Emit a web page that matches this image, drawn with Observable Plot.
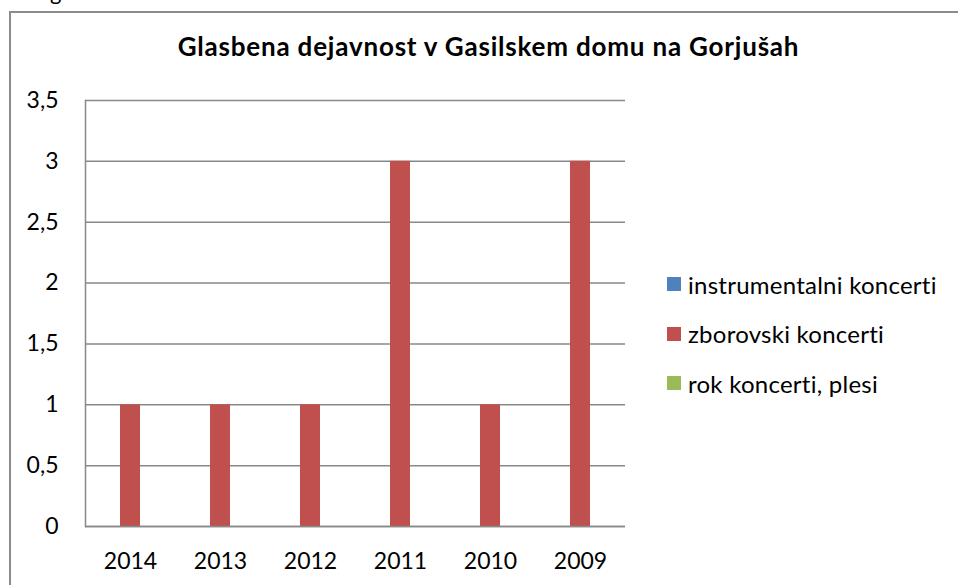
<!DOCTYPE html>
<html><head><meta charset="utf-8">
<script src="https://cdn.jsdelivr.net/npm/d3@7"></script>
<script src="https://cdn.jsdelivr.net/npm/@observablehq/plot@0.6"></script>
<style>
body{margin:0;background:#fff;font-family:Lato,sans-serif;}
#wrap{position:relative;width:958px;height:585px;overflow:hidden;background:#fff;}
#border{position:absolute;left:9px;top:11px;width:1000px;height:700px;border-left:2px solid #8c8c8c;border-top:2px solid #8c8c8c;box-sizing:border-box;}
#frag{position:absolute;left:50px;top:-19px;font-size:22px;line-height:22px;color:#000;}
#title{position:absolute;left:0;width:977px;top:32px;text-align:center;font-weight:bold;font-size:26px;letter-spacing:0.8px;line-height:28px;color:#000;white-space:nowrap;}
#legend{position:absolute;left:667px;top:271px;}
.row{display:flex;align-items:center;height:26px;margin-bottom:23.5px;font-size:24px;letter-spacing:0.25px;color:#000;white-space:nowrap;}
.sw{width:14px;height:14px;margin-right:7px;flex:none;}
#chart{position:absolute;left:0;top:0;}
</style></head><body>
<div id="wrap">
  <div id="border"></div>
  <div id="frag">g</div>
  <div id="chart"></div>
  <div id="title"></div>
  <div id="legend"></div>
</div>
<script>
const years = ["2014","2013","2012","2011","2010","2009"];
const series = ["instrumentalni koncerti","zborovski koncerti","rok koncerti, plesi"];
const instrumentalni = [0,0,0,0,0,0];
const zborovski = [1,1,1,3,1,3];
const rok = [0,0,0,0,0,0];
const colors = ["#4F81BD","#C0504D","#9BBB59"];
const yTicks = [0,0.5,1,1.5,2,2.5,3,3.5];
const title = "Glasbena dejavnost v Gasilskem domu na Gorjušah";

const values = [instrumentalni, zborovski, rok];
const data = [];
series.forEach((s,i)=>years.forEach((y,j)=>data.push({year:y, series:s, value:values[i][j]})));

const barW = 20;
const chart = Plot.plot({
  width:958, height:585,
  marginLeft:85, marginRight:333, marginTop:100, marginBottom:59,
  style:{fontFamily:"Lato, sans-serif", fontSize:"23px", color:"#000", background:"transparent"},
  x:{domain:years, paddingInner:0.7778, paddingOuter:0.3889, label:null, tickSize:0, tickPadding:26},
  y:{domain:[0,3.5], ticks:yTicks, tickFormat:d=>String(d).replace(".",","), label:null, tickSize:0, tickPadding:27},
  color:{domain:series, range:colors},
  marks:[
    Plot.gridY(yTicks,{stroke:"#888", strokeOpacity:1, strokeWidth:1.5}),
    Plot.frame({anchor:"left", stroke:"#888", strokeWidth:1.5}),
    ...series.map((s,i)=>Plot.barY(data.filter(d=>d.series===s),{x:"year", y:"value", fill:"series", dx:(i-1)*barW})),
    Plot.ruleY([0],{stroke:"#888", strokeWidth:1.5})
  ]
});
document.getElementById("chart").appendChild(chart);
document.getElementById("title").textContent = title;
const leg = document.getElementById("legend");
series.forEach((s,i)=>{
  const r = document.createElement("div"); r.className="row";
  const sw = document.createElement("div"); sw.className="sw"; sw.style.background=colors[i];
  const t = document.createElement("span"); t.textContent=s;
  r.appendChild(sw); r.appendChild(t); leg.appendChild(r);
});
</script>
</body></html>
